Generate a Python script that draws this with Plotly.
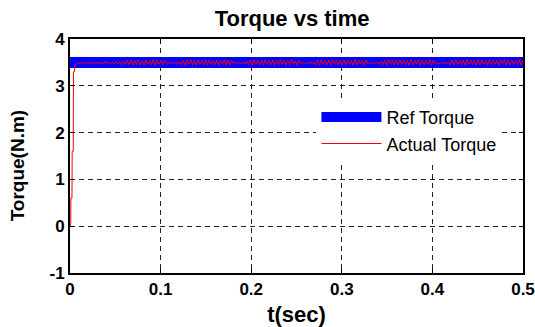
import numpy as np
import plotly.graph_objects as go

# ---- data ----
ref_t = [0.0, 0.5]
ref_torque = [3.5, 3.5]

rise_t = [0.0, 0.0008, 0.0010, 0.0022, 0.0024, 0.0036, 0.0038, 0.0050, 0.0054, 0.0064]
rise_torque = [0.0, 0.05, 0.6, 0.6, 1.6, 1.6, 3.3, 3.3, 3.45, 3.47]

ripple_torque = [
    3.47, 3.50, 3.46, 3.51, 3.47, 3.50, 3.46, 3.51, 3.47, 3.50, 3.46, 3.51,
    3.47, 3.50, 3.46, 3.52, 3.47, 3.51, 3.46, 3.50, 3.47, 3.52, 3.46, 3.51,
    3.45, 3.53, 3.46, 3.54, 3.45, 3.55, 3.44, 3.54, 3.46, 3.55, 3.45, 3.53,
    3.44, 3.55, 3.46, 3.54, 3.45, 3.56, 3.44, 3.55, 3.46, 3.54, 3.45, 3.55,
    3.47, 3.51, 3.46, 3.50, 3.47, 3.51, 3.46, 3.52, 3.45, 3.54, 3.44, 3.55,
    3.46, 3.56, 3.45, 3.54, 3.44, 3.55, 3.46, 3.54, 3.45, 3.56, 3.44, 3.55,
    3.46, 3.53, 3.45, 3.55, 3.44, 3.54, 3.46, 3.56, 3.45, 3.55, 3.44, 3.54,
    3.47, 3.51, 3.46, 3.50, 3.47, 3.51, 3.46, 3.52, 3.45, 3.55, 3.44, 3.56,
    3.46, 3.54, 3.45, 3.55, 3.44, 3.56, 3.46, 3.54, 3.45, 3.55, 3.44, 3.54,
    3.45, 3.56, 3.46, 3.55, 3.44, 3.54, 3.45, 3.56, 3.46, 3.53, 3.44, 3.55,
    3.47, 3.51, 3.46, 3.50, 3.47, 3.52, 3.46, 3.51, 3.45, 3.55, 3.44, 3.56,
    3.46, 3.54, 3.45, 3.55, 3.44, 3.56, 3.46, 3.55, 3.45, 3.54, 3.44, 3.56,
    3.45, 3.55, 3.46, 3.54, 3.44, 3.56, 3.45, 3.55, 3.46, 3.54, 3.44, 3.55,
    3.47, 3.51, 3.46, 3.50, 3.47, 3.51, 3.46, 3.52, 3.45, 3.54, 3.44, 3.56,
    3.46, 3.55, 3.45, 3.54, 3.44, 3.56, 3.46, 3.55, 3.45, 3.54, 3.44, 3.56,
    3.45, 3.54, 3.46, 3.56, 3.44, 3.55, 3.45, 3.54, 3.46, 3.56, 3.44, 3.55,
    3.47, 3.51, 3.46, 3.50, 3.47, 3.52, 3.46, 3.51, 3.45, 3.55, 3.44, 3.56,
    3.46, 3.54, 3.45, 3.55, 3.44, 3.56, 3.46, 3.55, 3.45, 3.54, 3.44, 3.56,
    3.45, 3.55, 3.46, 3.54, 3.44, 3.56, 3.45, 3.55, 3.46, 3.54, 3.44, 3.55,
    3.46, 3.56, 3.45, 3.54, 3.44, 3.55, 3.46, 3.54, 3.45, 3.56, 3.44, 3.55,
]
ripple_t = list(np.linspace(0.0075, 0.5, len(ripple_torque)))

x_ticks = [0, 0.1, 0.2, 0.3, 0.4, 0.5]
x_tick_labels = ["0", "0.1", "0.2", "0.3", "0.4", "0.5"]
y_ticks = [-1, 0, 1, 2, 3, 4]
y_tick_labels = ["-1", "0", "1", "2", "3", "4"]

act_t = rise_t + ripple_t
act_torque = rise_torque + ripple_torque

FONT = "Liberation Sans, Arial, sans-serif"

fig = go.Figure()
fig.add_trace(go.Scatter(x=ref_t, y=ref_torque, mode="lines", name="Ref Torque",
                         line=dict(color="#0000FF", width=11)))
fig.add_trace(go.Scatter(x=act_t, y=act_torque, mode="lines", name="Actual Torque",
                         line=dict(color="#FF0000", width=1)))

axis_common = dict(
    showline=True, linecolor="black", linewidth=2, mirror="ticks",
    showgrid=True, gridcolor="#222222", griddash="5px,4px", gridwidth=1,
    zeroline=False, ticks="inside", ticklen=4, tickcolor="black",
    automargin=False,
    tickfont=dict(family=FONT, size=17, color="black", weight="bold"),
)

fig.update_xaxes(range=[0, 0.5], tickvals=x_ticks, ticktext=x_tick_labels,
                 title=dict(text="<b>t(sec)</b>", font=dict(family=FONT, size=22, color="black"),
                            standoff=9),
                 **axis_common)
fig.update_yaxes(range=[-1, 4], tickvals=y_ticks, ticktext=y_tick_labels,
                 **axis_common)

fig.update_layout(
    width=535, height=327,
    margin=dict(l=70, r=12, t=39, b=54, autoexpand=False),
    paper_bgcolor="white", plot_bgcolor="white",
    title=dict(text="<b>Torque vs time</b>", x=0.546, xanchor="center", y=0.945, yanchor="middle",
               font=dict(family=FONT, size=22, color="black")),
    legend=dict(x=0.544, y=0.744, xanchor="left", yanchor="top",
                bgcolor="white", borderwidth=0,
                font=dict(family=FONT, size=18, color="black"),
                tracegroupgap=0, itemwidth=60),
    showlegend=True,
    annotations=[dict(text="<b>Torque(N.m)</b>", textangle=-90,
                      xref="paper", yref="paper", x=-0.117, y=0.46,
                      xanchor="center", yanchor="middle", showarrow=False,
                      font=dict(family=FONT, size=19, color="black"))],
)

fig.write_html("out.html")
